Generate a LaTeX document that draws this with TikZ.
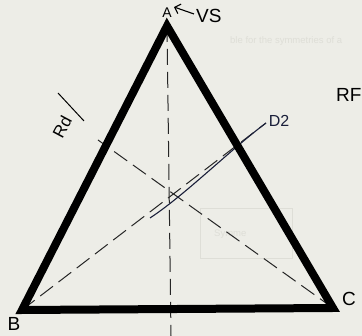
\documentclass[tikz,border=0pt]{standalone}
\usepackage{fontspec}
\setmainfont{Liberation Sans}
\usetikzlibrary{arrows.meta}
\definecolor{paper}{HTML}{EDEDE7}
\definecolor{ghost}{HTML}{DEDED7}
\definecolor{pen}{HTML}{1A1F3A}
\tikzset{
  side/.style={line width=8pt, line join=miter, black},
  dashline/.style={line width=1pt, black!85, dash pattern=on 16pt off 7pt},
  penline/.style={line width=1.1pt, pen},
  hand/.style={font=\fontsize{19}{19}\selectfont, inner sep=0pt},
  ghosttext/.style={font=\fontsize{9.5}{9.5}\selectfont, text=ghost, inner sep=0pt}
}
\begin{document}
\begin{tikzpicture}[x=1pt,y=-1pt]
\useasboundingbox (0,0) rectangle (362,336);
\fill[paper] (0,0) rectangle (362,336);
\clip (0,0) rectangle (362,336);
% faint show-through text
\node[ghosttext, anchor=west] (g1) at (230,41) {ble for the symmetries of a};
\draw[ghost, line width=0.8pt] (200,208) rectangle (292,258);
\node[ghosttext, anchor=west] (g2) at (214,234) {Symme};
% vertices
\coordinate (A) at (167,26);
\coordinate (B) at (22,310);
\coordinate (C) at (333,308);
\coordinate (Vb) at (171,336);
\coordinate (Bend) at (266,123);
\coordinate (Cend) at (98,140);
\coordinate (P1) at (150,218);
% dashed lines
\draw[dashline] (A) -- (Vb);
\draw[dashline] (B) -- (Bend);
\draw[dashline] (C) -- (Cend);
% blue pen stroke along D2
\draw[penline] (P1) .. controls (185,195) and (230,150) .. (Bend);
% triangle
\draw[side] (A) -- (B) -- (C) -- cycle;
% labels
\node[hand, font=\fontsize{14}{14}\selectfont] (la) at (167,13) {A};
\node[hand, anchor=west] (lvs) at (196,16) {VS};
\coordinate (vsArrow) at (194,14);
\coordinate (aTip) at (174,7);
\draw[line width=1.1pt, -{Straight Barb[length=5pt]}] (vsArrow) -- (aTip);
\node[hand, rotate=62, font=\fontsize{17}{17}\selectfont] (rd) at (62,127) {Rd};
\coordinate (rd1) at (58,93);
\coordinate (rd2) at (84,121);
\draw[line width=1pt] (rd1) -- (rd2);
\node[hand, text=pen, font=\fontsize{16}{16}\selectfont] (d2) at (279,121) {D2};
\node[hand, anchor=west] (rf) at (336,95) {RF};
\node[hand] (lb) at (14,324) {B};
\node[hand] (lc) at (349,299) {C};
\end{tikzpicture}
\end{document}
